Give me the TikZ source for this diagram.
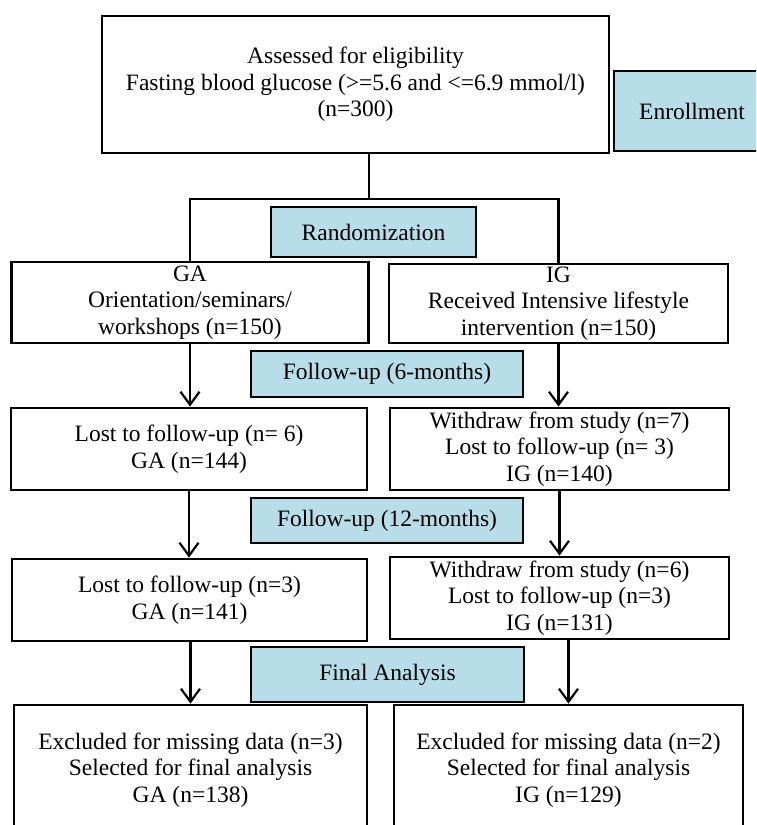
\documentclass[tikz,border=0pt]{standalone}
\usepackage{fontspec}
\setmainfont{Liberation Serif}
\usetikzlibrary{arrows.meta}

\definecolor{stageblue}{RGB}{183,222,232}

\tikzset{
	box/.style = {draw, line width = 2.8pt, align = center, inner sep = 1pt,
		font = \fontsize{23.5}{26.5}\selectfont},
	stage/.style = {box, fill = stageblue},
}

\begin{document}
\begin{tikzpicture}[x = 1pt, y = -1pt, line width = 2.2pt, >={Straight Barb[length = 13pt, width = 19pt]}]
\useasboundingbox (0,0) rectangle (756,825);
\clip (0,0) rectangle (756,825);

\node [box, minimum width = 507, minimum height = 137] (assess) at (355.5, 84.5)
	{Assessed for eligibility\\Fasting blood glucose (>=5.6 and <=6.9 mmol/l)\\(n=300)};
\node [stage, minimum width = 156, minimum height = 80] (enroll) at (692, 111) {Enrollment};
\node [stage, minimum width = 205, minimum height = 50] (rand) at (373.5, 232) {Randomization};

\node [box, minimum width = 357, minimum height = 81] (ga1) at (190, 302.5)
	{GA\\Orientation/seminars/\\workshops (n=150)};
\node [box, minimum width = 339, minimum height = 79] (ig1) at (558.5, 303.5)
	{IG\\Received Intensive lifestyle\\intervention (n=150)};
\node [stage, minimum width = 272, minimum height = 46] (fu6) at (387, 374) {Follow-up (6-months)};

\node [box, minimum width = 356, minimum height = 82] (ga2) at (189, 449)
	{Lost to follow-up (n= 6)\\GA (n=144)};
\node [box, minimum width = 339, minimum height = 82] (ig2) at (559.5, 449)
	{Withdraw from study (n=7)\\Lost to follow-up (n= 3)\\IG (n=140)};
\node [stage, minimum width = 272, minimum height = 45] (fu12) at (387, 520.5) {Follow-up (12-months)};

\node [box, minimum width = 355, minimum height = 82] (ga3) at (189.5, 600)
	{Lost to follow-up (n=3)\\GA (n=141)};
\node [box, minimum width = 339, minimum height = 82] (ig3) at (559.5, 598)
	{Withdraw from study (n=6)\\Lost to follow-up (n=3)\\IG (n=131)};
\node [stage, minimum width = 273, minimum height = 55] (fa) at (387.5, 674.5) {Final Analysis};

\node [box, minimum width = 353, minimum height = 130] (ga4) at (190.5, 770)
	{Excluded for missing data (n=3)\\Selected for final analysis\\GA (n=138)};
\node [box, minimum width = 349, minimum height = 130] (ig4) at (568.5, 770)
	{Excluded for missing data (n=2)\\Selected for final analysis\\IG (n=129)};

\coordinate (split) at (369, 199);
\draw (split) -- (split |- assess.south);
\draw (ga1.north) |- (split) -| (ig1.north);

\draw [->] (ga1.south) -- (ga1.south |- ga2.north);
\draw [->] (ig1.south) -- (ig1.south |- ig2.north);
\draw [->] (ga2.south) -- (ga2.south |- ga3.north);
\draw [->] (ig2.south) -- (ig2.south |- ig3.north);
\draw [->] (ga3.south -| ga4) -- (ga4.north);
\draw [->] (ig3.south -| ig4) -- (ig4.north);

\end{tikzpicture}
\end{document}
